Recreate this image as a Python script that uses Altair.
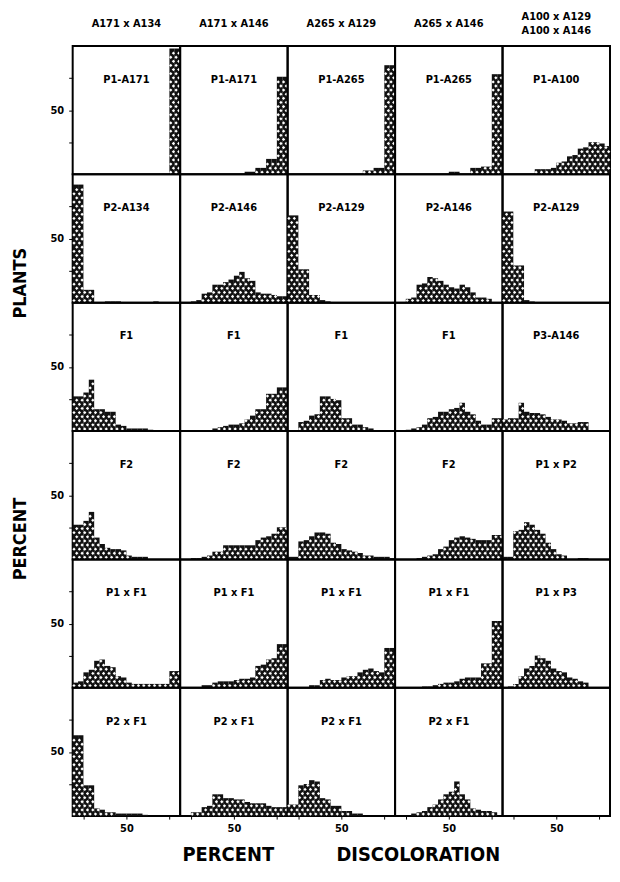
import altair as alt
import pandas as pd

# column headers (crosses); the last column has two crosses on two lines
heads = ["A171 x A134", "A171 x A146", "A265 x A129", "A265 x A146", "A100 x A129"]
heads2 = ["", "", "", "", "A100 x A146"]
labels = [
    ["P1-A171", "P1-A171", "P1-A265", "P1-A265", "P1-A100"],
    ["P2-A134", "P2-A146", "P2-A129", "P2-A146", "P2-A129"],
    ["F1", "F1", "F1", "F1", "P3-A146"],
    ["F2", "F2", "F2", "F2", "P1  x  P2"],
    ["P1  x  F1", "P1  x  F1", "P1  x  F1", "P1  x  F1", "P1  x  P3"],
    ["P2  x  F1", "P2 x F1", "P2  x  F1", "P2  x  F1", ""],
]

# class starts (percent discoloration), 5% classes
bins = [0, 5, 10, 15, 20, 25, 30, 35, 40, 45, 50, 55, 60, 65, 70, 75, 80, 85, 90, 95]

# percent plants per class
r1c1 = [0, 0, 0, 0, 0, 0, 0, 0, 0, 0, 0, 0, 0, 0, 0, 0, 0, 0, 98, 98]
r1c2 = [0, 0, 0, 0, 0, 0, 0, 0, 0, 0, 0, 0, 2, 2, 5, 5, 12, 12, 76, 76]
r1c3 = [0, 0, 0, 0, 0, 0, 0, 0, 0, 0, 0, 0, 0, 0, 3, 3, 5, 5, 85, 85]
r1c4 = [0, 0, 0, 0, 0, 0, 0, 0, 0, 0, 2, 2, 0, 0, 5, 5, 6, 6, 78, 78]
r1c5 = [0, 0, 0, 0, 0, 0, 4, 4, 4, 5, 9, 10, 14, 15, 20, 21, 25, 25, 24, 22]

r2c1 = [92, 92, 10, 10, 0, 0, 1, 1, 1, 0, 0, 0, 0, 0, 0, 1, 0, 0, 0, 0]
r2c2 = [0, 0, 1, 2, 7, 8, 14, 14, 16, 18, 21, 24, 19, 17, 8, 7, 7, 6, 5, 5]
r2c3 = [68, 68, 26, 26, 6, 6, 2, 1, 0, 0, 0, 0, 0, 0, 0, 0, 0, 0, 0, 0]
r2c4 = [0, 0, 3, 4, 14, 15, 20, 19, 17, 14, 12, 11, 14, 12, 8, 4, 4, 3, 0, 0]
r2c5 = [71, 71, 29, 29, 2, 1, 0, 0, 0, 0, 0, 0, 0, 0, 0, 0, 0, 0, 0, 0]

r3c1 = [27, 27, 30, 40, 17, 17, 15, 15, 5, 4, 2, 2, 2, 2, 1, 0, 0, 0, 0, 0]
r3c2 = [0, 0, 0, 0, 0, 0, 2, 3, 4, 5, 5, 6, 9, 12, 17, 17, 29, 29, 34, 34]
r3c3 = [0, 0, 7, 8, 12, 13, 27, 27, 25, 24, 10, 10, 5, 5, 3, 2, 0, 0, 0, 0]
r3c4 = [0, 0, 1, 2, 3, 5, 10, 11, 15, 15, 17, 18, 22, 15, 13, 8, 5, 5, 10, 10]
r3c5 = [9, 10, 10, 22, 15, 14, 14, 13, 11, 9, 9, 8, 6, 6, 7, 7, 0, 0, 0, 0]

r4c1 = [27, 27, 30, 37, 17, 12, 9, 8, 8, 7, 3, 2, 2, 2, 0, 0, 0, 0, 0, 0]
r4c2 = [0, 0, 1, 1, 2, 3, 6, 6, 11, 11, 11, 11, 11, 11, 15, 17, 18, 20, 25, 25]
r4c3 = [2, 2, 14, 15, 18, 21, 21, 20, 13, 12, 8, 7, 6, 5, 3, 3, 2, 2, 2, 1]
r4c4 = [0, 0, 0, 0, 1, 2, 3, 4, 8, 10, 15, 17, 18, 17, 16, 15, 15, 15, 19, 19]
r4c5 = [2, 2, 22, 23, 29, 27, 23, 20, 13, 8, 4, 3, 0, 0, 1, 1, 0, 0, 0, 0]

r5c1 = [4, 5, 12, 14, 21, 22, 17, 16, 9, 8, 4, 3, 3, 3, 3, 3, 3, 3, 13, 13]
r5c2 = [0, 0, 0, 0, 2, 2, 4, 5, 5, 5, 6, 7, 7, 8, 17, 18, 22, 23, 34, 34]
r5c3 = [0, 0, 0, 0, 2, 2, 6, 7, 6, 6, 8, 9, 9, 12, 14, 15, 13, 12, 31, 31]
r5c4 = [0, 0, 0, 0, 0, 1, 1, 2, 3, 4, 4, 5, 7, 8, 8, 8, 19, 19, 52, 52]
r5c5 = [0, 1, 3, 9, 15, 17, 25, 23, 21, 15, 13, 12, 8, 7, 5, 4, 0, 0, 0, 0]

r6c1 = [63, 63, 24, 24, 6, 5, 3, 3, 2, 2, 2, 2, 2, 1, 0, 0, 0, 0, 0, 0]
r6c2 = [0, 0, 3, 3, 7, 8, 17, 17, 14, 14, 13, 13, 11, 10, 10, 10, 8, 7, 7, 7]
r6c3 = [9, 9, 24, 25, 28, 27, 14, 13, 8, 8, 4, 4, 2, 2, 0, 0, 0, 0, 0, 0]
r6c4 = [0, 0, 0, 2, 3, 4, 7, 9, 13, 17, 19, 27, 17, 13, 6, 5, 4, 4, 3, 0]
r6c5 = [0, 0, 0, 0, 0, 0, 0, 0, 0, 0, 0, 0, 0, 0, 0, 0, 0, 0, 0, 0]

grid = [
    [r1c1, r1c2, r1c3, r1c4, r1c5],
    [r2c1, r2c2, r2c3, r2c4, r2c5],
    [r3c1, r3c2, r3c3, r3c4, r3c5],
    [r4c1, r4c2, r4c3, r4c4, r4c5],
    [r5c1, r5c2, r5c3, r5c4, r5c5],
    [r6c1, r6c2, r6c3, r6c4, r6c5],
]

rows = []
for ri, row in enumerate(grid):
    for ci, vals in enumerate(row):
        for b, v in zip(bins, vals):
            rows.append({"r": ri + 1, "c": ci + 1, "head": heads[ci],
                         "head2": heads2[ci], "b": b, "b2": b + 5, "val": v,
                         "label": labels[ri][ci]})
df = pd.DataFrame(rows)

FONT = "DejaVu Sans Condensed, Liberation Sans Narrow, DejaVu Sans, sans-serif"
NB = "\u00a0"
W = 108
H = 129

x_enc = alt.X("b:Q", scale=alt.Scale(domain=[0, 100], nice=False),
              axis=alt.Axis(values=[10, 20, 30, 40, 50, 60, 70, 80, 90],
                            labelExpr="datum.value == 50 ? '50' : ''",
                            title=None, domain=False, grid=False, tickSize=3,
                            tickColor="black", tickWidth=1, labelFont=FONT,
                            labelFontSize=11, labelFontWeight="bold",
                            labelColor="black", labelPadding=3))
y_enc = alt.Y("val:Q", scale=alt.Scale(domain=[0, 100], nice=False),
              axis=alt.Axis(values=[25, 50, 75],
                            labelExpr="datum.value == 50 ? '50' : ''",
                            title=None, domain=False, grid=False, tickSize=4,
                            tickColor="black", tickWidth=1, labelFont=FONT,
                            labelFontSize=11, labelFontWeight="bold",
                            labelColor="black", labelPadding=5, minExtent=0))

bars = alt.Chart().mark_bar(color="#111111", strokeWidth=0).encode(
    x=x_enc, x2="b2:Q", y=y_enc, y2=alt.datum(0)
).transform_filter("datum.val > 0")

holes = alt.Chart().mark_point(shape="diamond", filled=True, color="white",
                               size=11, opacity=1).encode(
    x=alt.X("hx:Q"), y=alt.Y("hy:Q")
).transform_filter("datum.val > 1.5").transform_calculate(
    hy="sequence(1.6, datum.val - 0.8, 3.2)"
).transform_flatten(["hy"]).transform_calculate(
    hx="datum.b + (floor(datum.hy / 3.2) % 2 == 0 ? 1.25 : 3.75)"
)

texts = alt.Chart().mark_text(font=FONT, fontSize=11, fontWeight="bold",
                              color="black").encode(
    text="label:N", x=alt.value(W / 2), y=alt.value(34)
).transform_filter("datum.b == 0")

tops1 = alt.Chart().mark_text(font=FONT, fontSize=11, fontWeight="bold",
                              color="black", baseline="middle").encode(
    text="head:N", x=alt.value(W / 2), y=alt.value(-22)
).transform_filter("datum.b == 0 && datum.r == 1 && datum.c < 5")

tops2 = alt.Chart().mark_text(font=FONT, fontSize=11, fontWeight="bold",
                              color="black", baseline="middle").encode(
    text="head:N", x=alt.value(W / 2), y=alt.value(-29)
).transform_filter("datum.b == 0 && datum.r == 1 && datum.c == 5")

tops3 = alt.Chart().mark_text(font=FONT, fontSize=11, fontWeight="bold",
                              color="black", baseline="middle").encode(
    text="head2:N", x=alt.value(W / 2), y=alt.value(-15)
).transform_filter("datum.b == 0 && datum.r == 1 && datum.c == 5")

chart = alt.layer(bars, holes, texts, tops1, tops2, tops3).properties(
    width=W, height=H
).facet(
    data=df,
    row=alt.Row("r:O", header=alt.Header(
        labels=False, labelPadding=0,
        title="PERCENT" + NB * 32 + "PLANTS",
        titleFont=FONT, titleFontSize=18, titleFontWeight="bold",
        titleColor="black", titlePadding=10)),
    column=alt.Column("c:O", header=alt.Header(
        labels=False, labelOrient="bottom", labelPadding=0,
        title="PERCENT" + NB * 10 + "DISCOLORATION", titleOrient="bottom",
        titleFont=FONT, titleFontSize=20, titleFontWeight="bold",
        titleColor="black", titlePadding=2)),
    spacing=0,
    bounds="flush",
).properties(padding={"left": 3, "top": 0, "right": 0, "bottom": 0}).configure_view(
    stroke="black", strokeWidth=2)

chart.save("out.html", embed_options={"renderer": "svg", "actions": False})
